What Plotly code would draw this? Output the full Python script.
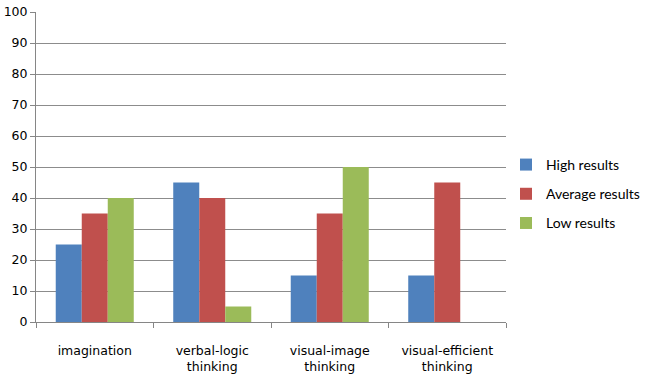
import plotly.graph_objects as go

categories = ["imagination", "verbal-logic<br>thinking", "visual-image<br>thinking", "visual-efficient<br>thinking"]
high = [25, 45, 15, 15]
average = [35, 40, 35, 45]
low = [40, 5, 50, 0]
series_names = ["High results", "Average results", "Low results"]
colors = ["#4F81BD", "#C0504D", "#9BBB59"]

fig = go.Figure()
for i, (name, vals, c) in enumerate(zip(series_names, [high, average, low], colors)):
    fig.add_trace(go.Bar(x=categories, y=vals, name=name, legendgroup=f"g{i}",
                         marker=dict(color=c, line=dict(width=0))))

fig.update_layout(
    width=651, height=382,
    margin=dict(l=36, r=145, t=12, b=60, autoexpand=False),
    paper_bgcolor="white", plot_bgcolor="white",
    barmode="group", bargap=0.336, bargroupgap=0,
    font=dict(family="DejaVu Sans", size=12, color="#000000"),
    legend=dict(x=1.0, y=0.413, xanchor="left", yanchor="middle",
                font=dict(family="Lato", size=14), itemwidth=30,
                tracegroupgap=8, traceorder="grouped"),
    showlegend=True,
)
fig.update_xaxes(showline=True, linecolor="#868686", linewidth=1,
                 ticks="outside", tickson="boundaries", ticklen=5, tickcolor="#868686",
                 tickfont=dict(family="DejaVu Sans", size=12.5), ticklabelstandoff=17,
                 showgrid=False)
fig.update_yaxes(range=[0, 100], dtick=10, showline=True, linecolor="#868686", linewidth=1,
                 ticks="outside", ticklen=5, tickcolor="#868686",
                 showgrid=True, gridcolor="#8c8c8c", gridwidth=1,
                 tickfont=dict(family="DejaVu Sans", size=12.5), zeroline=False)

fig.write_html("out.html")
